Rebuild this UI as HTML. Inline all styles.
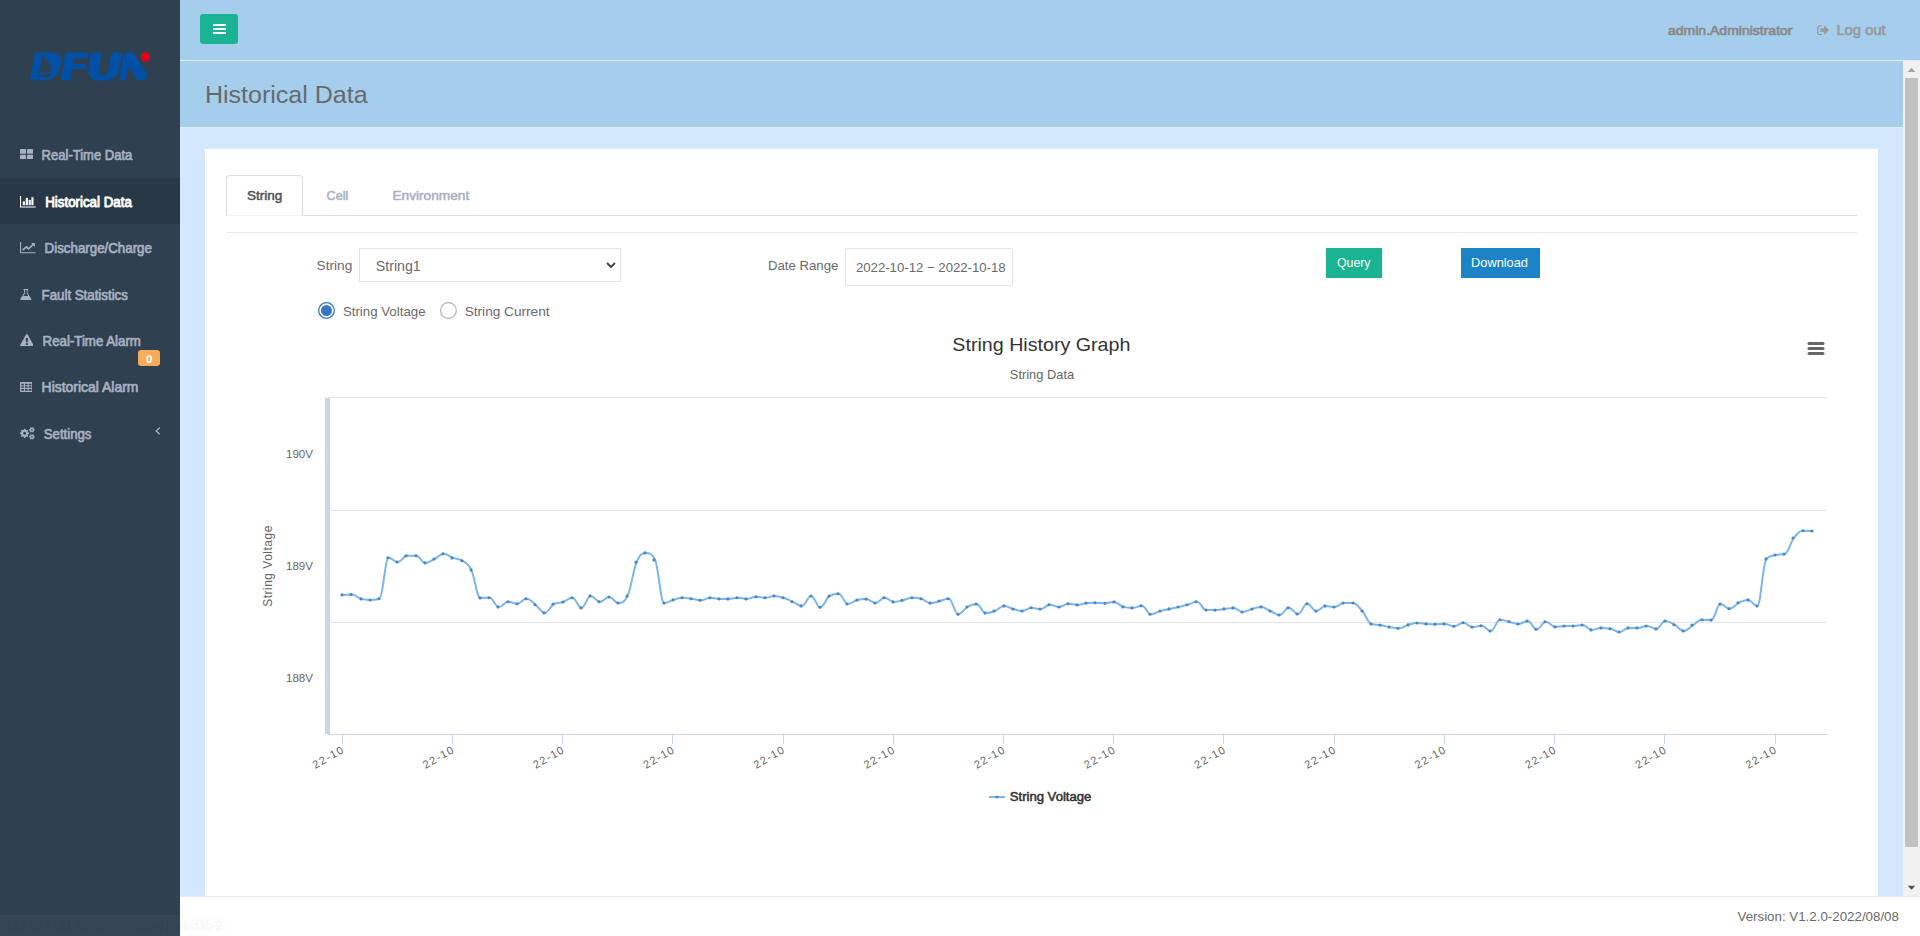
<!DOCTYPE html>
<html><head><meta charset="utf-8"><title>Historical Data</title>
<style>
html,body{margin:0;padding:0}
body{width:1920px;height:936px;overflow:hidden;position:relative;background:#d3e8fc;font-family:"Liberation Sans", sans-serif}
.abs{position:absolute;display:block}
.t{position:absolute;white-space:nowrap;line-height:20px;height:20px;transform-origin:0 0}
svg text{font-family:"Liberation Sans", sans-serif}
</style></head><body>
<div class="abs" style="left:0;top:0;width:180px;height:936px;background:#2f4050"></div>
<div class="abs" style="left:0;top:178px;width:180px;height:46px;background:#293846"></div>
<div class="abs" style="left:180px;top:0;width:1740px;height:60px;background:#a5cdec;border-bottom:1px solid #e7eaec"></div>
<div class="abs" style="left:200px;top:14px;width:38px;height:30px;background:#1ab394;border-radius:3px"></div>
<div class="abs" style="left:180px;top:61px;width:1723px;height:66px;background:#a5cdec;border-bottom:1px solid #e7eaec"></div>
<div class="abs" style="left:205px;top:148px;width:1673px;height:748px;background:#ffffff;border-top:1px solid #e7eaec;box-sizing:border-box"></div>
<div class="abs" style="left:226px;top:215px;width:1631px;height:1px;background:#dddddd"></div>
<div class="abs" style="left:226px;top:175px;width:75px;height:39px;border:1px solid #dddddd;border-bottom:1px solid #f4f4f4;border-radius:4px 4px 0 0;background:#fff"></div>
<div class="abs" style="left:226px;top:232px;width:1631px;height:1px;background:#e7eaec"></div>
<div class="abs" style="left:359px;top:248px;width:260px;height:32px;border:1px solid #e5e6e7;background:#fff"></div>
<div class="abs" style="left:845px;top:248px;width:166px;height:36px;border:1px solid #e5e6e7;border-radius:2px;background:#fff"></div>
<div class="abs" style="left:1326px;top:248px;width:56px;height:30px;background:#1ab394"></div>
<div class="abs" style="left:1461px;top:248px;width:79px;height:30px;background:#1c84c6"></div>
<div class="abs" style="left:138px;top:350px;width:22px;height:16px;background:#f8ac59;border-radius:3px"></div>
<div class="abs" style="left:1903px;top:61px;width:17px;height:835px;background:#f1f1f1"></div>
<div class="abs" style="left:1905px;top:78px;width:13px;height:769px;background:#c1c1c1"></div>
<div class="abs" style="left:180px;top:896px;width:1740px;height:39px;background:#ffffff;border-top:1px solid #e7eaec"></div>
<svg class="abs" style="left:24px;top:44px" width="136" height="46" viewBox="0 0 1920 649">
<g fill="#0050a6">
<path d="M155,120 L395,120 C480,120 532,175 526,258 C515,405 420,516 290,516 L85,516 Z"/>
<path d="M640,119 L915,119 L902,200 L700,200 L688,280 L886,280 L874,352 L678,352 L655,516 L520,516 L574,195 C582,145 598,119 640,119 Z"/>
<path d="M945,120 L1100,120 L1062,340 C1054,400 1072,446 1110,446 C1152,446 1186,410 1196,340 L1235,120 L1385,120 L1346,350 C1326,462 1230,519 1092,519 C960,519 893,460 910,350 Z"/>
<path d="M1340,516 L1396,200 C1406,140 1440,118 1490,118 C1530,118 1552,135 1572,165 L1725,400 C1757,450 1722,516 1650,516 C1615,516 1595,500 1580,476 L1478,326 L1432,516 Z"/>
</g>
<g fill="#2f4050">
<path d="M243,148 C315,200 394,300 380,392 C310,385 240,398 192,423 C235,345 255,250 243,148 Z"/>
<path d="M169,472 C225,438 300,415 378,412 C372,440 352,466 326,481 C285,468 230,463 169,472 Z"/>
</g>
<circle cx="1715" cy="185" r="67" fill="#e60012"/>
</svg>
<svg class="abs" style="left:19.5px;top:148.7px" width="13" height="10.4" viewBox="0 0 13 11" preserveAspectRatio="none"><g fill="#a7b1c2"><rect x="0" y="0" width="6" height="5" rx="0.6"/><rect x="7" y="0" width="6" height="5" rx="0.6"/><rect x="0" y="6" width="6" height="5" rx="0.6"/><rect x="7" y="6" width="6" height="5" rx="0.6"/></g></svg>
<svg class="abs" style="left:19.8px;top:195.5px" width="16" height="12" viewBox="0 0 16 12"><g fill="#ffffff"><path d="M0 0 H1.1 V10.5 H15.7 V11.5 H0 Z"/><rect x="2.8" y="5.4" width="2.2" height="3.8"/><rect x="5.7" y="1.8" width="2.3" height="7.4"/><rect x="8.7" y="3.9" width="2.1" height="5.3"/><rect x="11.4" y="1.2" width="2.1" height="8"/></g></svg>
<svg class="abs" style="left:19.8px;top:241.8px" width="16" height="12" viewBox="0 0 16 12"><g fill="#a7b1c2"><path d="M0 0 H1.1 V10.2 H15.6 V11.3 H0 Z"/><path d="M11.0 1.0 H14.9 V4.9 Z"/></g><path d="M2.5 8.2 L6.5 4.9 L8.5 6.9 L13.2 2.5" fill="none" stroke="#a7b1c2" stroke-width="1.7"/></svg>
<svg class="abs" style="left:20.3px;top:288.5px" width="11.7" height="11.4" viewBox="0 0 12 11.6" preserveAspectRatio="none"><path fill="#a7b1c2" d="M3.6 0 H8.4 V1 H7.8 V4.2 L11.5 10 C12 10.9 11.6 11.6 10.6 11.6 H1.4 C0.4 11.6 0 10.9 0.5 10 L4.2 4.2 V1 H3.6 Z M5.1 1 V4.5 L3.4 7.2 H8.6 L6.9 4.5 V1 Z"/></svg>
<svg class="abs" style="left:19.5px;top:333.5px" width="13.7" height="12.5" viewBox="0 0 14 12.7" preserveAspectRatio="none"><path fill="#a7b1c2" fill-rule="evenodd" d="M7 0 C7.5 0 7.8 0.3 8 0.7 L13.8 11.3 C14.2 12.1 13.7 12.7 12.9 12.7 H1.1 C0.3 12.7 -0.2 12.1 0.2 11.3 L6 0.7 C6.2 0.3 6.5 0 7 0 Z M5.9 4.1 L6.1 8.3 H7.9 L8.1 4.1 Z M6 9.3 V11.1 H8 V9.3 Z"/></svg>
<svg class="abs" style="left:19.6px;top:381.9px" width="12.6" height="10.2" viewBox="0 0 13 11" preserveAspectRatio="none"><path fill="#a7b1c2" fill-rule="evenodd" d="M0.8 0 H12.2 C12.7 0 13 0.3 13 0.8 V10.2 C13 10.7 12.7 11 12.2 11 H0.8 C0.3 11 0 10.7 0 10.2 V0.8 C0 0.3 0.3 0 0.8 0 Z M1.3 2 V3.6 H4 V2 Z M5.1 2 V3.6 H7.9 V2 Z M9 2 V3.6 H11.8 V2 Z M1.3 4.7 V6.3 H4 V4.7 Z M5.1 4.7 V6.3 H7.9 V4.7 Z M9 4.7 V6.3 H11.8 V4.7 Z M1.3 7.6 V9.4 H4 V7.6 Z M5.1 7.6 V9.4 H7.9 V7.6 Z M9 7.6 V9.4 H11.8 V7.6 Z"/></svg>
<svg class="abs" style="left:19.5px;top:427px" width="15" height="13" viewBox="0 0 15 13"><path fill="#a7b1c2" fill-rule="evenodd" d="M9.27 5.79 L9.27 6.81 L8.06 7.31 L7.76 8.03 L8.26 9.25 L7.55 9.96 L6.33 9.46 L5.61 9.76 L5.11 10.97 L4.09 10.97 L3.59 9.76 L2.87 9.46 L1.65 9.96 L0.94 9.25 L1.44 8.03 L1.14 7.31 L-0.07 6.81 L-0.07 5.79 L1.14 5.29 L1.44 4.57 L0.94 3.35 L1.65 2.64 L2.87 3.14 L3.59 2.84 L4.09 1.63 L5.11 1.63 L5.61 2.84 L6.33 3.14 L7.55 2.64 L8.26 3.35 L7.76 4.57 L8.06 5.29 Z M3.10 6.30 a1.50 1.50 0 1 0 3.00 0 a1.50 1.50 0 1 0 -3.00 0 Z M14.77 2.48 L14.77 3.32 L13.94 3.72 L13.63 4.26 L13.70 5.18 L12.97 5.59 L12.22 5.08 L11.58 5.08 L10.83 5.59 L10.10 5.18 L10.17 4.26 L9.86 3.72 L9.03 3.32 L9.03 2.48 L9.86 2.08 L10.17 1.54 L10.10 0.62 L10.83 0.21 L11.58 0.72 L12.22 0.72 L12.97 0.21 L13.70 0.62 L13.63 1.54 L13.94 2.08 Z M11.10 2.90 a0.80 0.80 0 1 0 1.60 0 a0.80 0.80 0 1 0 -1.60 0 Z M14.77 9.48 L14.77 10.32 L13.94 10.72 L13.63 11.26 L13.70 12.18 L12.97 12.59 L12.22 12.08 L11.58 12.08 L10.83 12.59 L10.10 12.18 L10.17 11.26 L9.86 10.72 L9.03 10.32 L9.03 9.48 L9.86 9.08 L10.17 8.54 L10.10 7.62 L10.83 7.21 L11.58 7.72 L12.22 7.72 L12.97 7.21 L13.70 7.62 L13.63 8.54 L13.94 9.08 Z M11.10 9.90 a0.80 0.80 0 1 0 1.60 0 a0.80 0.80 0 1 0 -1.60 0 Z"/></svg>
<svg class="abs" style="left:155px;top:427px" width="6" height="8" viewBox="0 0 6 8"><path d="M4.8 0.6 L1.2 3.9 L4.8 7.2" fill="none" stroke="#a7b1c2" stroke-width="1.3"/></svg>
<svg class="abs" style="left:212.5px;top:23px" width="13" height="12" viewBox="0 0 13 12"><g fill="#ffffff"><rect x="0" y="1" width="13" height="2" rx="0.4"/><rect x="0" y="5" width="13" height="2" rx="0.4"/><rect x="0" y="9" width="13" height="2" rx="0.4"/></g></svg>
<svg class="abs" style="left:1816.8px;top:24.7px" width="13" height="10.4" viewBox="0 0 13 11" preserveAspectRatio="none"><g fill="#999c9e"><path d="M5 0.3 V1.6 H2.6 C1.9 1.6 1.4 2.1 1.4 2.8 V8.2 C1.4 8.9 1.9 9.4 2.6 9.4 H5 V10.7 H2.4 C1 10.7 0 9.7 0 8.3 V2.7 C0 1.3 1 0.3 2.4 0.3 Z"/><path d="M7.3 0.4 L12.2 5.5 L7.3 10.6 V7.5 H3.4 V3.5 H7.3 Z"/></g></svg>
<svg class="abs" style="left:606px;top:262px" width="10" height="7" viewBox="0 0 10 7"><path d="M1 1 L5 5 L9 1" fill="none" stroke="#444444" stroke-width="1.9"/></svg>
<svg class="abs" style="left:1903px;top:61px" width="17" height="17" viewBox="0 0 17 17"><path d="M4.5 11 L8.5 6.8 L12.5 11 Z" fill="#a3a3a3"/></svg>
<svg class="abs" style="left:1903px;top:879px" width="17" height="17" viewBox="0 0 17 17"><path d="M4.8 6.7 L8.5 10.8 L12.2 6.7 Z" fill="#505050"/></svg>
<svg class="abs" style="left:0;top:0" width="1920" height="936" viewBox="0 0 1920 936">
<rect x="328" y="397" width="1499" height="1" fill="#e6e6e6" shape-rendering="crispEdges"/>
<rect x="328" y="510" width="1499" height="1" fill="#e6e6e6" shape-rendering="crispEdges"/>
<rect x="328" y="622" width="1499" height="1" fill="#e6e6e6" shape-rendering="crispEdges"/>
<rect x="328" y="734" width="1499" height="1" fill="#ccd6eb" shape-rendering="crispEdges"/>
<rect x="325" y="398" width="5" height="336" fill="#ccd6eb" shape-rendering="crispEdges"/>
<rect x="342" y="734" width="1" height="10" fill="#ccd6eb" shape-rendering="crispEdges"/>
<text x="345.35" y="751.7" text-anchor="end" transform="rotate(-30 345.35 751.7)" font-size="11" fill="#666666" letter-spacing="1.3">22-10</text>
<rect x="452" y="734" width="1" height="10" fill="#ccd6eb" shape-rendering="crispEdges"/>
<text x="455.57" y="751.7" text-anchor="end" transform="rotate(-30 455.57 751.7)" font-size="11" fill="#666666" letter-spacing="1.3">22-10</text>
<rect x="562" y="734" width="1" height="10" fill="#ccd6eb" shape-rendering="crispEdges"/>
<text x="565.79" y="751.7" text-anchor="end" transform="rotate(-30 565.79 751.7)" font-size="11" fill="#666666" letter-spacing="1.3">22-10</text>
<rect x="672" y="734" width="1" height="10" fill="#ccd6eb" shape-rendering="crispEdges"/>
<text x="676.01" y="751.7" text-anchor="end" transform="rotate(-30 676.01 751.7)" font-size="11" fill="#666666" letter-spacing="1.3">22-10</text>
<rect x="783" y="734" width="1" height="10" fill="#ccd6eb" shape-rendering="crispEdges"/>
<text x="786.23" y="751.7" text-anchor="end" transform="rotate(-30 786.23 751.7)" font-size="11" fill="#666666" letter-spacing="1.3">22-10</text>
<rect x="893" y="734" width="1" height="10" fill="#ccd6eb" shape-rendering="crispEdges"/>
<text x="896.45" y="751.7" text-anchor="end" transform="rotate(-30 896.45 751.7)" font-size="11" fill="#666666" letter-spacing="1.3">22-10</text>
<rect x="1003" y="734" width="1" height="10" fill="#ccd6eb" shape-rendering="crispEdges"/>
<text x="1006.67" y="751.7" text-anchor="end" transform="rotate(-30 1006.67 751.7)" font-size="11" fill="#666666" letter-spacing="1.3">22-10</text>
<rect x="1113" y="734" width="1" height="10" fill="#ccd6eb" shape-rendering="crispEdges"/>
<text x="1116.89" y="751.7" text-anchor="end" transform="rotate(-30 1116.89 751.7)" font-size="11" fill="#666666" letter-spacing="1.3">22-10</text>
<rect x="1223" y="734" width="1" height="10" fill="#ccd6eb" shape-rendering="crispEdges"/>
<text x="1227.11" y="751.7" text-anchor="end" transform="rotate(-30 1227.11 751.7)" font-size="11" fill="#666666" letter-spacing="1.3">22-10</text>
<rect x="1334" y="734" width="1" height="10" fill="#ccd6eb" shape-rendering="crispEdges"/>
<text x="1337.33" y="751.7" text-anchor="end" transform="rotate(-30 1337.33 751.7)" font-size="11" fill="#666666" letter-spacing="1.3">22-10</text>
<rect x="1444" y="734" width="1" height="10" fill="#ccd6eb" shape-rendering="crispEdges"/>
<text x="1447.55" y="751.7" text-anchor="end" transform="rotate(-30 1447.55 751.7)" font-size="11" fill="#666666" letter-spacing="1.3">22-10</text>
<rect x="1554" y="734" width="1" height="10" fill="#ccd6eb" shape-rendering="crispEdges"/>
<text x="1557.77" y="751.7" text-anchor="end" transform="rotate(-30 1557.77 751.7)" font-size="11" fill="#666666" letter-spacing="1.3">22-10</text>
<rect x="1664" y="734" width="1" height="10" fill="#ccd6eb" shape-rendering="crispEdges"/>
<text x="1667.99" y="751.7" text-anchor="end" transform="rotate(-30 1667.99 751.7)" font-size="11" fill="#666666" letter-spacing="1.3">22-10</text>
<rect x="1775" y="734" width="1" height="10" fill="#ccd6eb" shape-rendering="crispEdges"/>
<text x="1778.21" y="751.7" text-anchor="end" transform="rotate(-30 1778.21 751.7)" font-size="11" fill="#666666" letter-spacing="1.3">22-10</text>
<text x="268" y="566" text-anchor="middle" transform="rotate(-90 268 566)" dy="4.3" font-size="12" fill="#666666" letter-spacing="0.5">String Voltage</text>
<path d="M 342.70 594.90 C 342.70 594.90 348.21 594.60 351.88 594.60 C 355.56 594.60 357.40 597.82 361.07 598.90 C 364.74 599.98 366.58 600.00 370.25 600.00 C 373.93 600.00 375.77 600.00 379.44 598.80 C 383.11 597.60 384.95 557.80 388.62 557.80 C 392.30 557.80 394.14 562.10 397.81 562.10 C 401.48 562.10 403.32 555.90 407.00 555.80 C 410.67 555.70 412.51 555.70 416.18 555.70 C 419.85 555.70 421.69 562.90 425.37 562.90 C 429.04 562.90 430.88 560.84 434.55 559.00 C 438.22 557.16 440.06 553.70 443.74 553.70 C 447.41 553.70 449.25 556.50 452.92 557.90 C 456.59 559.30 458.43 558.30 462.11 560.70 C 465.78 563.10 467.62 562.46 471.29 569.90 C 474.96 577.34 476.80 597.90 480.48 597.90 C 484.15 597.90 485.99 597.80 489.66 597.80 C 493.33 597.80 495.17 607.00 498.85 607.00 C 502.52 607.00 504.36 601.80 508.03 601.80 C 511.70 601.80 513.54 603.80 517.22 603.80 C 520.89 603.80 522.73 598.80 526.40 598.80 C 530.07 598.80 531.91 601.88 535.59 604.70 C 539.26 607.52 541.10 612.90 544.77 612.90 C 548.44 612.90 550.28 606.00 553.96 604.00 C 557.63 602.00 559.47 603.24 563.14 602.00 C 566.81 600.76 568.65 597.80 572.33 597.80 C 576.00 597.80 577.84 607.90 581.51 607.90 C 585.18 607.90 587.02 595.90 590.69 595.90 C 594.37 595.90 596.21 601.80 599.88 601.80 C 603.55 601.80 605.39 597.00 609.07 597.00 C 612.74 597.00 614.58 603.00 618.25 603.00 C 621.92 603.00 623.76 603.00 627.43 596.10 C 631.11 589.20 632.95 570.84 636.62 562.20 C 640.29 553.56 642.13 552.90 645.81 552.90 C 649.48 552.90 651.32 552.90 654.99 559.90 C 658.66 566.90 660.50 603.10 664.17 603.10 C 667.85 603.10 669.69 600.98 673.36 599.90 C 677.03 598.82 678.87 597.70 682.55 597.70 C 686.22 597.70 688.06 598.28 691.73 598.80 C 695.40 599.32 697.24 600.30 700.91 600.30 C 704.59 600.30 706.43 597.80 710.10 597.80 C 713.77 597.80 715.61 598.90 719.29 598.90 C 722.96 598.90 724.80 598.90 728.47 598.90 C 732.14 598.90 733.98 597.80 737.65 597.80 C 741.33 597.80 743.17 598.90 746.84 598.90 C 750.51 598.90 752.35 596.80 756.03 596.80 C 759.70 596.80 761.54 597.80 765.21 597.80 C 768.88 597.80 770.72 595.90 774.39 595.90 C 778.07 595.90 779.91 596.52 783.58 597.70 C 787.25 598.88 789.09 600.16 792.76 601.80 C 796.44 603.44 798.28 605.90 801.95 605.90 C 805.62 605.90 807.46 596.00 811.13 596.00 C 814.81 596.00 816.65 607.20 820.32 607.20 C 823.99 607.20 825.83 598.40 829.50 596.10 C 833.18 593.80 835.02 593.80 838.69 593.80 C 842.36 593.80 844.20 604.00 847.88 604.00 C 851.55 604.00 853.39 600.90 857.06 600.00 C 860.73 599.10 862.57 599.10 866.25 599.10 C 869.92 599.10 871.76 603.00 875.43 603.00 C 879.10 603.00 880.94 597.70 884.62 597.70 C 888.29 597.70 890.13 601.90 893.80 601.90 C 897.47 601.90 899.31 601.02 902.99 600.20 C 906.66 599.38 908.50 597.80 912.17 597.80 C 915.84 597.80 917.68 597.80 921.36 598.80 C 925.03 599.80 926.87 603.10 930.54 603.10 C 934.21 603.10 936.05 601.86 939.72 601.00 C 943.40 600.14 945.24 598.80 948.91 598.80 C 952.58 598.80 954.42 614.20 958.10 614.20 C 961.77 614.20 963.61 609.04 967.28 607.00 C 970.95 604.96 972.79 604.00 976.46 604.00 C 980.14 604.00 981.98 613.10 985.65 613.10 C 989.32 613.10 991.16 612.44 994.84 611.00 C 998.51 609.56 1000.35 605.90 1004.02 605.90 C 1007.69 605.90 1009.53 607.98 1013.20 609.00 C 1016.88 610.02 1018.72 611.00 1022.39 611.00 C 1026.06 611.00 1027.90 607.80 1031.58 607.80 C 1035.25 607.80 1037.09 609.00 1040.76 609.00 C 1044.43 609.00 1046.27 604.70 1049.94 604.70 C 1053.62 604.70 1055.46 607.00 1059.13 607.00 C 1062.80 607.00 1064.64 603.80 1068.32 603.80 C 1071.99 603.80 1073.83 604.90 1077.50 604.90 C 1081.17 604.90 1083.01 603.50 1086.68 603.10 C 1090.36 602.70 1092.20 602.70 1095.87 602.70 C 1099.54 602.70 1101.38 603.20 1105.06 603.20 C 1108.73 603.20 1110.57 601.90 1114.24 601.90 C 1117.91 601.90 1119.75 605.90 1123.42 606.90 C 1127.10 607.90 1128.94 607.90 1132.61 607.90 C 1136.28 607.90 1138.12 605.80 1141.80 605.80 C 1145.47 605.80 1147.31 614.20 1150.98 614.20 C 1154.65 614.20 1156.49 612.16 1160.16 611.10 C 1163.84 610.04 1165.68 609.72 1169.35 608.90 C 1173.02 608.08 1174.86 607.82 1178.54 607.00 C 1182.21 606.18 1184.05 605.84 1187.72 604.80 C 1191.39 603.76 1193.23 601.80 1196.90 601.80 C 1200.58 601.80 1202.42 609.90 1206.09 610.00 C 1209.76 610.10 1211.60 610.10 1215.28 610.10 C 1218.95 610.10 1220.79 609.34 1224.46 608.90 C 1228.13 608.46 1229.97 607.90 1233.64 607.90 C 1237.32 607.90 1239.16 612.00 1242.83 612.00 C 1246.50 612.00 1248.34 610.02 1252.02 609.00 C 1255.69 607.98 1257.53 606.90 1261.20 606.90 C 1264.87 606.90 1266.71 609.38 1270.38 611.00 C 1274.06 612.62 1275.90 615.00 1279.57 615.00 C 1283.24 615.00 1285.08 607.80 1288.76 607.80 C 1292.43 607.80 1294.27 614.00 1297.94 614.00 C 1301.61 614.00 1303.45 603.80 1307.12 603.80 C 1310.80 603.80 1312.64 611.10 1316.31 611.10 C 1319.98 611.10 1321.82 605.90 1325.50 605.90 C 1329.17 605.90 1331.01 607.00 1334.68 607.00 C 1338.35 607.00 1340.19 603.00 1343.87 603.00 C 1347.54 603.00 1349.38 603.00 1353.05 603.00 C 1356.72 603.00 1358.56 606.80 1362.24 611.00 C 1365.91 615.20 1367.75 622.90 1371.42 624.00 C 1375.09 625.10 1376.93 624.48 1380.61 625.10 C 1384.28 625.72 1386.12 626.48 1389.79 627.10 C 1393.46 627.72 1395.30 628.20 1398.98 628.20 C 1402.65 628.20 1404.49 625.94 1408.16 624.90 C 1411.83 623.86 1413.67 623.00 1417.35 623.00 C 1421.02 623.00 1422.86 623.66 1426.53 623.90 C 1430.20 624.14 1432.04 624.20 1435.72 624.20 C 1439.39 624.20 1441.23 623.90 1444.90 623.90 C 1448.57 623.90 1450.41 626.20 1454.09 626.20 C 1457.76 626.20 1459.60 622.80 1463.27 622.80 C 1466.94 622.80 1468.78 627.10 1472.46 627.10 C 1476.13 627.10 1477.97 625.80 1481.64 625.80 C 1485.31 625.80 1487.15 631.00 1490.83 631.00 C 1494.50 631.00 1496.34 619.80 1500.01 619.80 C 1503.68 619.80 1505.52 620.96 1509.20 621.80 C 1512.87 622.64 1514.71 624.00 1518.38 624.00 C 1522.05 624.00 1523.89 621.00 1527.57 621.00 C 1531.24 621.00 1533.08 629.20 1536.75 629.20 C 1540.42 629.20 1542.26 621.80 1545.94 621.80 C 1549.61 621.80 1551.45 626.90 1555.12 626.90 C 1558.79 626.90 1560.63 626.00 1564.31 626.00 C 1567.98 626.00 1569.82 626.00 1573.49 626.00 C 1577.16 626.00 1579.00 625.00 1582.68 625.00 C 1586.35 625.00 1588.19 629.90 1591.86 629.90 C 1595.53 629.90 1597.37 627.90 1601.05 627.90 C 1604.72 627.90 1606.56 627.98 1610.23 628.80 C 1613.90 629.62 1615.74 632.00 1619.42 632.00 C 1623.09 632.00 1624.93 627.90 1628.60 627.90 C 1632.27 627.90 1634.11 627.90 1637.79 627.90 C 1641.46 627.90 1643.30 626.00 1646.97 626.00 C 1650.64 626.00 1652.48 628.90 1656.16 628.90 C 1659.83 628.90 1661.67 621.00 1665.34 621.00 C 1669.01 621.00 1670.85 622.70 1674.53 624.70 C 1678.20 626.70 1680.04 631.00 1683.71 631.00 C 1687.38 631.00 1689.22 627.34 1692.90 625.10 C 1696.57 622.86 1698.41 619.80 1702.08 619.80 C 1705.75 619.80 1707.59 620.10 1711.27 620.10 C 1714.94 620.10 1716.78 604.10 1720.45 604.10 C 1724.12 604.10 1725.96 608.70 1729.64 608.70 C 1733.31 608.70 1735.15 604.56 1738.82 602.80 C 1742.49 601.04 1744.33 599.90 1748.01 599.90 C 1751.68 599.90 1753.52 606.00 1757.19 606.00 C 1760.86 606.00 1762.70 562.80 1766.38 558.90 C 1770.05 555.00 1771.89 555.90 1775.56 555.00 C 1779.23 554.10 1781.07 555.00 1784.75 554.10 C 1788.42 553.20 1790.26 542.66 1793.93 538.00 C 1797.60 533.34 1799.44 530.80 1803.12 530.80 C 1806.79 530.80 1812.30 531.00 1812.30 531.00" fill="none" stroke="#7cb5ec" stroke-width="2" stroke-linejoin="round" stroke-linecap="round"/>
<circle cx="342.00" cy="594.90" r="1.55" fill="#4a86c2"/>
<circle cx="351.00" cy="594.60" r="1.55" fill="#4a86c2"/>
<circle cx="361.00" cy="598.90" r="1.55" fill="#4a86c2"/>
<circle cx="370.00" cy="600.00" r="1.55" fill="#4a86c2"/>
<circle cx="379.00" cy="598.80" r="1.55" fill="#4a86c2"/>
<circle cx="388.00" cy="557.80" r="1.55" fill="#4a86c2"/>
<circle cx="397.00" cy="562.10" r="1.55" fill="#4a86c2"/>
<circle cx="406.00" cy="555.80" r="1.55" fill="#4a86c2"/>
<circle cx="416.00" cy="555.70" r="1.55" fill="#4a86c2"/>
<circle cx="425.00" cy="562.90" r="1.55" fill="#4a86c2"/>
<circle cx="434.00" cy="559.00" r="1.55" fill="#4a86c2"/>
<circle cx="443.00" cy="553.70" r="1.55" fill="#4a86c2"/>
<circle cx="452.00" cy="557.90" r="1.55" fill="#4a86c2"/>
<circle cx="462.00" cy="560.70" r="1.55" fill="#4a86c2"/>
<circle cx="471.00" cy="569.90" r="1.55" fill="#4a86c2"/>
<circle cx="480.00" cy="597.90" r="1.55" fill="#4a86c2"/>
<circle cx="489.00" cy="597.80" r="1.55" fill="#4a86c2"/>
<circle cx="498.00" cy="607.00" r="1.55" fill="#4a86c2"/>
<circle cx="508.00" cy="601.80" r="1.55" fill="#4a86c2"/>
<circle cx="517.00" cy="603.80" r="1.55" fill="#4a86c2"/>
<circle cx="526.00" cy="598.80" r="1.55" fill="#4a86c2"/>
<circle cx="535.00" cy="604.70" r="1.55" fill="#4a86c2"/>
<circle cx="544.00" cy="612.90" r="1.55" fill="#4a86c2"/>
<circle cx="553.00" cy="604.00" r="1.55" fill="#4a86c2"/>
<circle cx="563.00" cy="602.00" r="1.55" fill="#4a86c2"/>
<circle cx="572.00" cy="597.80" r="1.55" fill="#4a86c2"/>
<circle cx="581.00" cy="607.90" r="1.55" fill="#4a86c2"/>
<circle cx="590.00" cy="595.90" r="1.55" fill="#4a86c2"/>
<circle cx="599.00" cy="601.80" r="1.55" fill="#4a86c2"/>
<circle cx="609.00" cy="597.00" r="1.55" fill="#4a86c2"/>
<circle cx="618.00" cy="603.00" r="1.55" fill="#4a86c2"/>
<circle cx="627.00" cy="596.10" r="1.55" fill="#4a86c2"/>
<circle cx="636.00" cy="562.20" r="1.55" fill="#4a86c2"/>
<circle cx="645.00" cy="552.90" r="1.55" fill="#4a86c2"/>
<circle cx="654.00" cy="559.90" r="1.55" fill="#4a86c2"/>
<circle cx="664.00" cy="603.10" r="1.55" fill="#4a86c2"/>
<circle cx="673.00" cy="599.90" r="1.55" fill="#4a86c2"/>
<circle cx="682.00" cy="597.70" r="1.55" fill="#4a86c2"/>
<circle cx="691.00" cy="598.80" r="1.55" fill="#4a86c2"/>
<circle cx="700.00" cy="600.30" r="1.55" fill="#4a86c2"/>
<circle cx="710.00" cy="597.80" r="1.55" fill="#4a86c2"/>
<circle cx="719.00" cy="598.90" r="1.55" fill="#4a86c2"/>
<circle cx="728.00" cy="598.90" r="1.55" fill="#4a86c2"/>
<circle cx="737.00" cy="597.80" r="1.55" fill="#4a86c2"/>
<circle cx="746.00" cy="598.90" r="1.55" fill="#4a86c2"/>
<circle cx="756.00" cy="596.80" r="1.55" fill="#4a86c2"/>
<circle cx="765.00" cy="597.80" r="1.55" fill="#4a86c2"/>
<circle cx="774.00" cy="595.90" r="1.55" fill="#4a86c2"/>
<circle cx="783.00" cy="597.70" r="1.55" fill="#4a86c2"/>
<circle cx="792.00" cy="601.80" r="1.55" fill="#4a86c2"/>
<circle cx="801.00" cy="605.90" r="1.55" fill="#4a86c2"/>
<circle cx="811.00" cy="596.00" r="1.55" fill="#4a86c2"/>
<circle cx="820.00" cy="607.20" r="1.55" fill="#4a86c2"/>
<circle cx="829.00" cy="596.10" r="1.55" fill="#4a86c2"/>
<circle cx="838.00" cy="593.80" r="1.55" fill="#4a86c2"/>
<circle cx="847.00" cy="604.00" r="1.55" fill="#4a86c2"/>
<circle cx="857.00" cy="600.00" r="1.55" fill="#4a86c2"/>
<circle cx="866.00" cy="599.10" r="1.55" fill="#4a86c2"/>
<circle cx="875.00" cy="603.00" r="1.55" fill="#4a86c2"/>
<circle cx="884.00" cy="597.70" r="1.55" fill="#4a86c2"/>
<circle cx="893.00" cy="601.90" r="1.55" fill="#4a86c2"/>
<circle cx="902.00" cy="600.20" r="1.55" fill="#4a86c2"/>
<circle cx="912.00" cy="597.80" r="1.55" fill="#4a86c2"/>
<circle cx="921.00" cy="598.80" r="1.55" fill="#4a86c2"/>
<circle cx="930.00" cy="603.10" r="1.55" fill="#4a86c2"/>
<circle cx="939.00" cy="601.00" r="1.55" fill="#4a86c2"/>
<circle cx="948.00" cy="598.80" r="1.55" fill="#4a86c2"/>
<circle cx="958.00" cy="614.20" r="1.55" fill="#4a86c2"/>
<circle cx="967.00" cy="607.00" r="1.55" fill="#4a86c2"/>
<circle cx="976.00" cy="604.00" r="1.55" fill="#4a86c2"/>
<circle cx="985.00" cy="613.10" r="1.55" fill="#4a86c2"/>
<circle cx="994.00" cy="611.00" r="1.55" fill="#4a86c2"/>
<circle cx="1004.00" cy="605.90" r="1.55" fill="#4a86c2"/>
<circle cx="1013.00" cy="609.00" r="1.55" fill="#4a86c2"/>
<circle cx="1022.00" cy="611.00" r="1.55" fill="#4a86c2"/>
<circle cx="1031.00" cy="607.80" r="1.55" fill="#4a86c2"/>
<circle cx="1040.00" cy="609.00" r="1.55" fill="#4a86c2"/>
<circle cx="1049.00" cy="604.70" r="1.55" fill="#4a86c2"/>
<circle cx="1059.00" cy="607.00" r="1.55" fill="#4a86c2"/>
<circle cx="1068.00" cy="603.80" r="1.55" fill="#4a86c2"/>
<circle cx="1077.00" cy="604.90" r="1.55" fill="#4a86c2"/>
<circle cx="1086.00" cy="603.10" r="1.55" fill="#4a86c2"/>
<circle cx="1095.00" cy="602.70" r="1.55" fill="#4a86c2"/>
<circle cx="1105.00" cy="603.20" r="1.55" fill="#4a86c2"/>
<circle cx="1114.00" cy="601.90" r="1.55" fill="#4a86c2"/>
<circle cx="1123.00" cy="606.90" r="1.55" fill="#4a86c2"/>
<circle cx="1132.00" cy="607.90" r="1.55" fill="#4a86c2"/>
<circle cx="1141.00" cy="605.80" r="1.55" fill="#4a86c2"/>
<circle cx="1150.00" cy="614.20" r="1.55" fill="#4a86c2"/>
<circle cx="1160.00" cy="611.10" r="1.55" fill="#4a86c2"/>
<circle cx="1169.00" cy="608.90" r="1.55" fill="#4a86c2"/>
<circle cx="1178.00" cy="607.00" r="1.55" fill="#4a86c2"/>
<circle cx="1187.00" cy="604.80" r="1.55" fill="#4a86c2"/>
<circle cx="1196.00" cy="601.80" r="1.55" fill="#4a86c2"/>
<circle cx="1206.00" cy="610.00" r="1.55" fill="#4a86c2"/>
<circle cx="1215.00" cy="610.10" r="1.55" fill="#4a86c2"/>
<circle cx="1224.00" cy="608.90" r="1.55" fill="#4a86c2"/>
<circle cx="1233.00" cy="607.90" r="1.55" fill="#4a86c2"/>
<circle cx="1242.00" cy="612.00" r="1.55" fill="#4a86c2"/>
<circle cx="1252.00" cy="609.00" r="1.55" fill="#4a86c2"/>
<circle cx="1261.00" cy="606.90" r="1.55" fill="#4a86c2"/>
<circle cx="1270.00" cy="611.00" r="1.55" fill="#4a86c2"/>
<circle cx="1279.00" cy="615.00" r="1.55" fill="#4a86c2"/>
<circle cx="1288.00" cy="607.80" r="1.55" fill="#4a86c2"/>
<circle cx="1297.00" cy="614.00" r="1.55" fill="#4a86c2"/>
<circle cx="1307.00" cy="603.80" r="1.55" fill="#4a86c2"/>
<circle cx="1316.00" cy="611.10" r="1.55" fill="#4a86c2"/>
<circle cx="1325.00" cy="605.90" r="1.55" fill="#4a86c2"/>
<circle cx="1334.00" cy="607.00" r="1.55" fill="#4a86c2"/>
<circle cx="1343.00" cy="603.00" r="1.55" fill="#4a86c2"/>
<circle cx="1353.00" cy="603.00" r="1.55" fill="#4a86c2"/>
<circle cx="1362.00" cy="611.00" r="1.55" fill="#4a86c2"/>
<circle cx="1371.00" cy="624.00" r="1.55" fill="#4a86c2"/>
<circle cx="1380.00" cy="625.10" r="1.55" fill="#4a86c2"/>
<circle cx="1389.00" cy="627.10" r="1.55" fill="#4a86c2"/>
<circle cx="1398.00" cy="628.20" r="1.55" fill="#4a86c2"/>
<circle cx="1408.00" cy="624.90" r="1.55" fill="#4a86c2"/>
<circle cx="1417.00" cy="623.00" r="1.55" fill="#4a86c2"/>
<circle cx="1426.00" cy="623.90" r="1.55" fill="#4a86c2"/>
<circle cx="1435.00" cy="624.20" r="1.55" fill="#4a86c2"/>
<circle cx="1444.00" cy="623.90" r="1.55" fill="#4a86c2"/>
<circle cx="1454.00" cy="626.20" r="1.55" fill="#4a86c2"/>
<circle cx="1463.00" cy="622.80" r="1.55" fill="#4a86c2"/>
<circle cx="1472.00" cy="627.10" r="1.55" fill="#4a86c2"/>
<circle cx="1481.00" cy="625.80" r="1.55" fill="#4a86c2"/>
<circle cx="1490.00" cy="631.00" r="1.55" fill="#4a86c2"/>
<circle cx="1500.00" cy="619.80" r="1.55" fill="#4a86c2"/>
<circle cx="1509.00" cy="621.80" r="1.55" fill="#4a86c2"/>
<circle cx="1518.00" cy="624.00" r="1.55" fill="#4a86c2"/>
<circle cx="1527.00" cy="621.00" r="1.55" fill="#4a86c2"/>
<circle cx="1536.00" cy="629.20" r="1.55" fill="#4a86c2"/>
<circle cx="1545.00" cy="621.80" r="1.55" fill="#4a86c2"/>
<circle cx="1555.00" cy="626.90" r="1.55" fill="#4a86c2"/>
<circle cx="1564.00" cy="626.00" r="1.55" fill="#4a86c2"/>
<circle cx="1573.00" cy="626.00" r="1.55" fill="#4a86c2"/>
<circle cx="1582.00" cy="625.00" r="1.55" fill="#4a86c2"/>
<circle cx="1591.00" cy="629.90" r="1.55" fill="#4a86c2"/>
<circle cx="1601.00" cy="627.90" r="1.55" fill="#4a86c2"/>
<circle cx="1610.00" cy="628.80" r="1.55" fill="#4a86c2"/>
<circle cx="1619.00" cy="632.00" r="1.55" fill="#4a86c2"/>
<circle cx="1628.00" cy="627.90" r="1.55" fill="#4a86c2"/>
<circle cx="1637.00" cy="627.90" r="1.55" fill="#4a86c2"/>
<circle cx="1646.00" cy="626.00" r="1.55" fill="#4a86c2"/>
<circle cx="1656.00" cy="628.90" r="1.55" fill="#4a86c2"/>
<circle cx="1665.00" cy="621.00" r="1.55" fill="#4a86c2"/>
<circle cx="1674.00" cy="624.70" r="1.55" fill="#4a86c2"/>
<circle cx="1683.00" cy="631.00" r="1.55" fill="#4a86c2"/>
<circle cx="1692.00" cy="625.10" r="1.55" fill="#4a86c2"/>
<circle cx="1702.00" cy="619.80" r="1.55" fill="#4a86c2"/>
<circle cx="1711.00" cy="620.10" r="1.55" fill="#4a86c2"/>
<circle cx="1720.00" cy="604.10" r="1.55" fill="#4a86c2"/>
<circle cx="1729.00" cy="608.70" r="1.55" fill="#4a86c2"/>
<circle cx="1738.00" cy="602.80" r="1.55" fill="#4a86c2"/>
<circle cx="1748.00" cy="599.90" r="1.55" fill="#4a86c2"/>
<circle cx="1757.00" cy="606.00" r="1.55" fill="#4a86c2"/>
<circle cx="1766.00" cy="558.90" r="1.55" fill="#4a86c2"/>
<circle cx="1775.00" cy="555.00" r="1.55" fill="#4a86c2"/>
<circle cx="1784.00" cy="554.10" r="1.55" fill="#4a86c2"/>
<circle cx="1793.00" cy="538.00" r="1.55" fill="#4a86c2"/>
<circle cx="1803.00" cy="530.80" r="1.55" fill="#4a86c2"/>
<circle cx="1812.00" cy="531.00" r="1.55" fill="#4a86c2"/>
<rect x="989" y="796" width="16" height="2" fill="#7cb5ec"/>
<circle cx="997" cy="797" r="1.55" fill="#4a86c2"/>
<path d="M1809 343.5 L1823 343.5" stroke="#666666" stroke-width="3" stroke-linecap="round"/>
<path d="M1809 348.5 L1823 348.5" stroke="#666666" stroke-width="3" stroke-linecap="round"/>
<path d="M1809 353.5 L1823 353.5" stroke="#666666" stroke-width="3" stroke-linecap="round"/>
<circle cx="326.5" cy="310.5" r="7.85" fill="#ffffff" stroke="#3578c8" stroke-width="1.3"/>
<circle cx="326.5" cy="310.5" r="5.5" fill="#3578c8"/>
<circle cx="448.4" cy="310.5" r="7.9" fill="#ffffff" stroke="#b2b2b2" stroke-width="1.2"/>
</svg>
<svg class="abs" style="left:0;top:0" width="1920" height="936" viewBox="0 0 1920 936">
<text id="n1" transform="translate(41.60 160.00) scale(0.9315 1)" font-size="14" fill="#a7b1c2" font-weight="normal" stroke="#a7b1c2" stroke-width="0.7" stroke-linejoin="round">Real-Time Data</text>
<text id="n2" transform="translate(45.20 207.00) scale(0.9523 1)" font-size="14" fill="#ffffff" font-weight="normal" stroke="#ffffff" stroke-width="0.9" stroke-linejoin="round">Historical Data</text>
<text id="n3" transform="translate(44.60 253.00) scale(0.9516 1)" font-size="14" fill="#a7b1c2" font-weight="normal" stroke="#a7b1c2" stroke-width="0.7" stroke-linejoin="round">Discharge/Charge</text>
<text id="n4" transform="translate(41.60 300.00) scale(0.9490 1)" font-size="14" fill="#a7b1c2" font-weight="normal" stroke="#a7b1c2" stroke-width="0.7" stroke-linejoin="round">Fault Statistics</text>
<text id="n5" transform="translate(42.60 346.00) scale(0.9493 1)" font-size="14" fill="#a7b1c2" font-weight="normal" stroke="#a7b1c2" stroke-width="0.7" stroke-linejoin="round">Real-Time Alarm</text>
<text id="n6" transform="translate(41.60 392.00) scale(0.9959 1)" font-size="14" fill="#a7b1c2" font-weight="normal" stroke="#a7b1c2" stroke-width="0.7" stroke-linejoin="round">Historical Alarm</text>
<text id="n7" transform="translate(43.80 439.00) scale(0.9431 1)" font-size="14" fill="#a7b1c2" font-weight="normal" stroke="#a7b1c2" stroke-width="0.7" stroke-linejoin="round">Settings</text>
<text id="u1" transform="translate(1668.00 35.00) scale(1.0784 1)" font-size="13" fill="#8a8a8a" font-weight="normal" stroke="#8a8a8a" stroke-width="0.7" stroke-linejoin="round">admin.Administrator</text>
<text id="u2" transform="translate(1836.40 35.00) scale(1.0565 1)" font-size="14" fill="#999c9e" font-weight="normal" stroke="#999c9e" stroke-width="0.7" stroke-linejoin="round">Log out</text>
<text id="h1" transform="translate(204.90 103.00) scale(1.0435 1)" font-size="24" fill="#676a6c" font-weight="normal">Historical Data</text>
<text id="tb1" transform="translate(246.90 200.00) scale(1.0000 1)" font-size="13.5" fill="#555555" font-weight="normal" stroke="#555555" stroke-width="0.55" stroke-linejoin="round">String</text>
<text id="tb2" transform="translate(326.60 200.00) scale(0.9348 1)" font-size="13.5" fill="#a7b1c2" font-weight="normal" stroke="#a7b1c2" stroke-width="0.55" stroke-linejoin="round">Cell</text>
<text id="tb3" transform="translate(392.50 200.00) scale(1.0123 1)" font-size="13.5" fill="#a7b1c2" font-weight="normal" stroke="#a7b1c2" stroke-width="0.55" stroke-linejoin="round">Environment</text>
<text id="f1" transform="translate(316.50 270.00) scale(1.0548 1)" font-size="13" fill="#676a6c" font-weight="normal">String</text>
<text id="f2" transform="translate(375.80 271.00) scale(1.0136 1)" font-size="14" fill="#676a6c" font-weight="normal">String1</text>
<text id="f3" transform="translate(768.00 270.00) scale(1.0149 1)" font-size="13" fill="#676a6c" font-weight="normal">Date Range</text>
<text id="f4" transform="translate(855.90 272.00) scale(1.0149 1)" font-size="13" fill="#676a6c" font-weight="normal">2022-10-12 &#8722; 2022-10-18</text>
<text id="f5" transform="translate(342.90 316.00) scale(1.0222 1)" font-size="13" fill="#676a6c" font-weight="normal">String Voltage</text>
<text id="f6" transform="translate(464.70 316.00) scale(1.0494 1)" font-size="13" fill="#676a6c" font-weight="normal">String Current</text>
<text id="b1" transform="translate(1337.00 267.00) scale(0.9472 1)" font-size="13" fill="#ffffff" font-weight="normal">Query</text>
<text id="b2" transform="translate(1471.10 267.00) scale(0.9842 1)" font-size="13" fill="#ffffff" font-weight="normal">Download</text>
<text id="c1" transform="translate(952.30 351.00) scale(1.0933 1)" font-size="18" fill="#333333" font-weight="normal">String History Graph</text>
<text id="c2" transform="translate(1009.80 379.00) scale(1.0733 1)" font-size="12" fill="#666666" font-weight="normal">String Data</text>
<text id="y1" transform="translate(286.00 458.00) scale(1.0800 1)" font-size="10.7" fill="#666666" font-weight="normal">190V</text>
<text id="y2" transform="translate(286.00 570.00) scale(1.0800 1)" font-size="10.7" fill="#666666" font-weight="normal">189V</text>
<text id="y3" transform="translate(286.00 682.00) scale(1.0800 1)" font-size="10.7" fill="#666666" font-weight="normal">188V</text>
<text id="lg" transform="translate(1009.80 801.00) scale(1.0920 1)" font-size="12" fill="#333333" font-weight="normal" stroke="#333333" stroke-width="0.5" stroke-linejoin="round">String Voltage</text>
<text id="ft" transform="translate(1737.50 921.00) scale(1.0253 1)" font-size="13" fill="#676a6c" font-weight="normal">Version: V1.2.0-2022/08/08</text>
<text id="bd" transform="translate(146.00 363.00) scale(1.0000 1)" font-size="11.5" fill="#ffffff" font-weight="bold">0</text>
</svg>
<div class="abs" style="left:0;top:915px;width:228px;height:21px;background:rgba(222,225,230,0.035);border-top-right-radius:3px"></div>
<div class="t" style="left:6px;top:915.6px;font-size:12px;color:rgba(0,0,0,0.06);transform:scaleX(0.992)">183.237.151.55:39000/history.html#tab-2</div>
</body></html>
